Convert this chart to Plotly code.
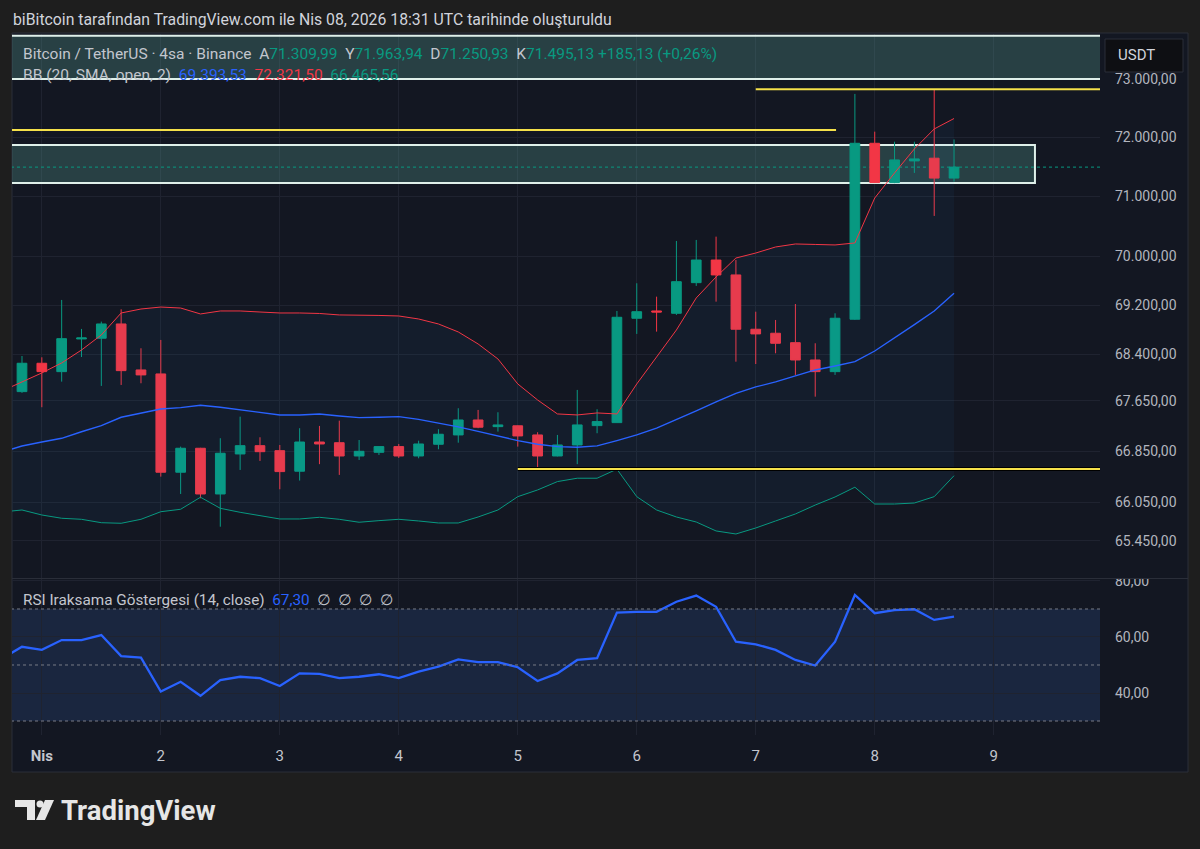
import plotly.graph_objects as go

W, H = 1200, 849

# ---------------- data ----------------
candle_idx = list(range(1, 49))          # 4h candles, idx 1 = 31 Mar 20:00
opens = [67800, 68256, 68121, 68649, 68661, 68893, 68148, 68084, 66520, 66898,
         66179, 66808, 66939, 66860, 66536, 66997, 66986, 66776, 66834, 66924,
         66776, 66961, 67109, 67347, 67241, 67254, 67109, 66776, 66950, 67257,
         67305, 68986, 69105, 69067, 69569, 69942, 69696, 68807, 68742, 68589,
         68309, 68121, 68970, 71899, 71234, 71600, 71646, 71309.99]
highs = [68373, 68352, 69285, 68812, 68931, 69132, 68498, 68633, 66924, 66905,
         67057, 67400, 67072, 66950, 67216, 67252, 67336, 67029, 66930, 66966,
         67018, 67200, 67534, 67507, 67470, 67260, 67152, 67109, 67827, 67518,
         69105, 69559, 69339, 70258, 70275, 70330, 69942, 69093, 68958, 69219,
         68579, 69067, 72743, 72097, 71926, 71926, 72823, 71963.94]
lows = [67780, 67550, 67960, 68357, 67891, 67907, 67934, 66451, 66179, 66112,
        65669, 66556, 66698, 66253, 66389, 66647, 66478, 66713, 66792, 66745,
        66740, 66882, 66986, 67216, 67162, 66924, 66588, 66770, 66647, 67136,
        67300, 68731, 68768, 69040, 69515, 69257, 68281, 68244, 68417, 68068,
        67719, 68068, 68960, 71230, 71225, 71397, 70675, 71250.93]
closes = [68256, 68121, 68654, 68665, 68893, 68137, 68068, 66520, 66898, 66179,
          66819, 66939, 66844, 66530, 66997, 66966, 66776, 66850, 66924, 66776,
          66966, 67120, 67347, 67232, 67268, 67093, 66776, 66950, 67268, 67321,
          69002, 69093, 69088, 69585, 69942, 69696, 68807, 68731, 68579, 68309,
          68121, 68986, 71899, 71234, 71617, 71634, 71310, 71495.13]

ind_idx = list(range(0, 49))             # indicator points (idx 0 = off-screen candle)
bb_upper = [67811, 67955, 68100, 68261, 68470, 68714, 69072, 69137, 69169, 69153,
            69056, 69105, 69105, 69088, 69072, 69072, 69064, 69040, 69040, 69032,
            69023, 68974, 68893, 68763, 68568, 68325, 67923, 67666, 67443, 67427,
            67459, 67443, 67923, 68357, 68795, 69318, 69663, 69975, 70058, 70158,
            70208, 70200, 70192, 70225, 70975, 71397, 71803, 72143, 72321.50]
bb_basis = [66839, 66934, 66997, 67056, 67160, 67256, 67390, 67454, 67522, 67543,
            67581, 67549, 67507, 67470, 67427, 67427, 67443, 67411, 67384, 67390,
            67400, 67356, 67300, 67237, 67165, 67086, 67019, 66962, 66924, 66915,
            66935, 67019, 67109, 67216, 67348, 67491, 67634, 67773, 67875, 67955,
            68052, 68148, 68212, 68281, 68454, 68665, 68881, 69105, 69393.53]
bb_lower = [65898, 65929, 65851, 65800, 65784, 65731, 65722, 65784, 65902, 65940,
            66128, 65955, 65893, 65846, 65789, 65789, 65815, 65784, 65738, 65763,
            65784, 65758, 65727, 65727, 65820, 65929, 66137, 66242, 66373, 66426,
            66426, 66568, 66137, 65929, 65820, 65742, 65603, 65556, 65649, 65758,
            65867, 66006, 66132, 66285, 66022, 66022, 66038, 66137, 66465.56]
rsi = [52.4, 56.5, 55.4, 58.9, 58.9, 60.7, 53.2, 52.6, 40.5, 44.0,
       39.0, 44.6, 45.8, 45.3, 42.5, 47.0, 46.8, 45.3, 45.8, 46.7,
       45.3, 47.6, 49.4, 52.0, 51.0, 51.0, 49.2, 44.3, 47.0, 51.8,
       52.4, 68.7, 69.0, 69.0, 72.6, 74.8, 70.8, 58.3, 57.4, 55.4,
       51.8, 49.8, 58.3, 75.0, 68.5, 69.6, 69.9, 66.1, 67.30]

day_ticks = [2, 8, 14, 20, 26, 32, 38, 44, 50]
day_labels = ["<b>Nis</b>", "2", "3", "4", "5", "6", "7", "8", "9"]
price_ticks = [73000, 72000, 71000, 70000, 69200, 68400, 67650, 66850, 66050, 65450]
rsi_ticks = [80, 60, 40]
rsi_levels = [70, 50, 30]

# drawing levels on the chart
top_zone = (73000, 73750)
range_zone = (71229, 71871)
res_hi = 72823
res_mid = 72126
sup_lo = 66572

# ---------------- helpers ----------------
def px(x):
    return x / W


def py(y):
    return 1 - y / H


def tr(v):
    s = f"{v:,.2f}"
    return s.replace(",", "X").replace(".", ",").replace("X", ".")


BG_OUT = "#1e1e1e"
BG = "#131722"
GRID = "#1f2330"
GREEN = "#089981"
RED = "#f23645"
BLUE = "#2962ff"
TXT = "#b2b5be"
FONT = "Roboto, 'DejaVu Sans', sans-serif"

XR = [0.496, 55.36]

fig = go.Figure()

fig.add_trace(go.Scatter(x=ind_idx, y=bb_upper, mode="lines",
                         line=dict(color=RED, width=1), xaxis="x", yaxis="y",
                         hoverinfo="skip"))
fig.add_trace(go.Scatter(x=ind_idx, y=bb_lower, mode="lines",
                         line=dict(color=GREEN, width=1), fill="tonexty",
                         fillcolor="rgba(33,150,243,0.05)", xaxis="x", yaxis="y",
                         hoverinfo="skip"))
fig.add_trace(go.Scatter(x=ind_idx, y=bb_basis, mode="lines",
                         line=dict(color=BLUE, width=1.4), xaxis="x", yaxis="y",
                         hoverinfo="skip"))
fig.add_trace(go.Candlestick(
    x=candle_idx, open=opens, high=highs, low=lows, close=closes,
    increasing=dict(line=dict(color=GREEN, width=1), fillcolor=GREEN),
    decreasing=dict(line=dict(color=RED, width=1), fillcolor=RED),
    whiskerwidth=0, xaxis="x", yaxis="y", hoverinfo="skip"))
fig.add_trace(go.Scatter(x=ind_idx, y=rsi, mode="lines",
                         line=dict(color=BLUE, width=2.3), xaxis="x2", yaxis="y2",
                         hoverinfo="skip"))

shapes = []
# chart panel
shapes.append(dict(type="rect", xref="paper", yref="paper", x0=px(12), x1=px(1188),
                   y0=py(772), y1=py(33), fillcolor=BG,
                   line=dict(color="#2a2e39", width=1), layer="below"))
# cover for the clipped top label of the RSI scale
shapes.append(dict(type="rect", xref="paper", yref="paper", x0=px(1101), x1=px(1187),
                   y0=py(579), y1=py(566), fillcolor=BG, line=dict(width=0),
                   layer="above"))
# pane divider
shapes.append(dict(type="line", xref="paper", yref="paper", x0=px(12), x1=px(1188),
                   y0=py(578.5), y1=py(578.5), line=dict(color="#2a2e39", width=1),
                   layer="above"))
# zones
zone_fill = "rgba(85,150,140,0.33)"
zone_line = "#dff0ea"
shapes.append(dict(type="rect", xref="x", yref="y", x0=-5, x1=60,
                   y0=top_zone[0], y1=top_zone[1], fillcolor=zone_fill,
                   line=dict(color=zone_line, width=2), layer="between"))
shapes.append(dict(type="rect", xref="x", yref="y", x0=-5, x1=52.08,
                   y0=range_zone[0], y1=range_zone[1], fillcolor=zone_fill,
                   line=dict(color=zone_line, width=2), layer="between"))
# yellow lines
shapes.append(dict(type="line", xref="x", yref="y", x0=38, x1=60, y0=res_hi, y1=res_hi,
                   line=dict(color="#f5e14a", width=2), layer="above"))
shapes.append(dict(type="line", xref="x", yref="y", x0=-5, x1=42.05, y0=res_mid, y1=res_mid,
                   line=dict(color="#f5e14a", width=2), layer="above"))
shapes.append(dict(type="line", xref="x", yref="y", x0=26, x1=60, y0=sup_lo, y1=sup_lo,
                   line=dict(color="#000000", width=4), layer="above"))
shapes.append(dict(type="line", xref="x", yref="y", x0=26, x1=60, y0=sup_lo, y1=sup_lo,
                   line=dict(color="#f5e14a", width=2), layer="above"))
# last price line
shapes.append(dict(type="line", xref="x", yref="y", x0=-5, x1=60,
                   y0=closes[-1], y1=closes[-1],
                   line=dict(color=GREEN, width=1, dash="dot"), layer="between"))
# RSI band and levels
shapes.append(dict(type="rect", xref="x2", yref="y2", x0=-5, x1=60, y0=30, y1=70,
                   fillcolor="#1a263f", line=dict(width=0), layer="below"))
for lv in rsi_levels:
    shapes.append(dict(type="line", xref="x2", yref="y2", x0=-5, x1=60, y0=lv, y1=lv,
                       line=dict(color="#787b86", width=1, dash="dot"), layer="above"))
# USDT box
shapes.append(dict(type="rect", xref="paper", yref="paper", x0=px(1105), x1=px(1183),
                   y0=py(72), y1=py(39), fillcolor="#0e0f13",
                   line=dict(color="#2a2e39", width=1), layer="above"))
# TradingView logo icon


def path(pts):
    return "M " + " L ".join(f"{px(a)},{py(b)}" for a, b in pts) + " Z"


LOGO = "#e6e6e6"
shapes.append(dict(type="path", xref="paper", yref="paper",
                   path=path([(15, 800), (35, 800), (35, 820), (27, 820), (27, 807), (15, 807)]),
                   fillcolor=LOGO, line=dict(width=0), layer="above"))
shapes.append(dict(type="circle", xref="paper", yref="paper",
                   x0=px(36.5), x1=px(43.5), y0=py(807.5), y1=py(800.5),
                   fillcolor=LOGO, line=dict(width=0), layer="above"))
shapes.append(dict(type="path", xref="paper", yref="paper",
                   path=path([(45, 800), (54, 800), (45, 820), (36, 820)]),
                   fillcolor=LOGO, line=dict(width=0), layer="above"))

ann = []
ann.append(dict(xref="paper", yref="paper", x=px(11), y=py(19), xanchor="left",
                yanchor="middle", showarrow=False,
                text="biBitcoin tarafından TradingView.com ile Nis 08, 2026 18:31 UTC tarihinde oluşturuldu",
                font=dict(family=FONT, size=15.8, color="#d1d4dc")))

chg = closes[-1] - closes[-2]
pct = chg / closes[-2] * 100
g = lambda s: f"<span style='color:{GREEN}'>{s}</span>"
sp = "\u00a0\u00a0"
row1 = ("Bitcoin / TetherUS · 4sa · Binance" + sp +
        "A" + g(tr(opens[-1])) + sp + "Y" + g(tr(highs[-1])) + sp +
        "D" + g(tr(lows[-1])) + sp + "K" + g(tr(closes[-1]) + "\u00a0+" + tr(chg) +
                                              " (+" + tr(pct) + "%)"))
ann.append(dict(xref="paper", yref="paper", x=px(21), y=py(54), xanchor="left",
                yanchor="middle", showarrow=False, text=row1,
                font=dict(family=FONT, size=15.5, color="#c3c6ce")))
row2 = ("BB (20, SMA, open, 2)" + sp +
        f"<span style='color:{BLUE}'>{tr(bb_basis[-1])}</span>" + sp +
        f"<span style='color:{RED}'>{tr(bb_upper[-1])}</span>" + sp +
        f"<span style='color:{GREEN}'>{tr(bb_lower[-1])}</span>")
ann.append(dict(xref="paper", yref="paper", x=px(21), y=py(75), xanchor="left",
                yanchor="middle", showarrow=False, text=row2,
                font=dict(family=FONT, size=15.5, color="#c3c6ce")))
row3 = ("RSI Iraksama Göstergesi (14, close)" + sp +
        f"<span style='color:{BLUE}'>{tr(rsi[-1])}</span>" + sp +
        "∅" + sp + "∅" + sp + "∅" + sp + "∅")
ann.append(dict(xref="paper", yref="paper", x=px(21), y=py(600), xanchor="left",
                yanchor="middle", showarrow=False, text=row3,
                font=dict(family=FONT, size=15.3, color="#c3c6ce")))
ann.append(dict(xref="paper", yref="paper", x=px(1116), y=py(55), xanchor="left",
                yanchor="middle", showarrow=False, text="USDT",
                font=dict(family=FONT, size=15, color="#d1d4dc")))
ann.append(dict(xref="paper", yref="paper", x=px(59), y=py(810), xanchor="left",
                yanchor="middle", showarrow=False, text="<b>TradingView</b>",
                font=dict(family=FONT, size=27.5, color=LOGO)))

fig.update_layout(
    width=W, height=H, margin=dict(l=0, r=0, t=0, b=0, autoexpand=False),
    paper_bgcolor=BG_OUT, plot_bgcolor=BG, showlegend=False,
    font=dict(family=FONT, color=TXT, size=13),
    shapes=shapes, annotations=ann,
    xaxis=dict(domain=[px(12), px(1100)], range=XR, anchor="y",
               showticklabels=False, tickvals=day_ticks, ticks="",
               showgrid=True, gridcolor=GRID, zeroline=False, showline=False,
               rangeslider=dict(visible=False), fixedrange=True, automargin=False),
    yaxis=dict(domain=[py(578), py(34)], type="log", range=[4.812094, 4.867943],
               side="right", anchor="x", tickvals=price_ticks,
               ticktext=[tr(v) for v in price_ticks], ticks="",
               showgrid=True, gridcolor=GRID, zeroline=False, showline=False,
               ticklabelstandoff=14, tickfont=dict(size=14, color=TXT),
               fixedrange=True, automargin=False),
    xaxis2=dict(domain=[px(12), px(1100)], range=XR, anchor="y2",
                tickvals=day_ticks, ticktext=day_labels, ticks="",
                showgrid=True, gridcolor=GRID, zeroline=False, showline=False,
                ticklabelstandoff=10, tickfont=dict(size=15, color="#c3c6ce"),
                fixedrange=True, automargin=False),
    yaxis2=dict(domain=[py(735), py(579)], range=[25.0, 80.71], side="right",
                anchor="x2", tickvals=rsi_ticks,
                ticktext=[tr(v) for v in rsi_ticks], ticks="",
                showgrid=True, gridcolor=GRID, zeroline=False, showline=False,
                ticklabelstandoff=14, tickfont=dict(size=14, color=TXT),
                fixedrange=True, automargin=False),
)

fig.write_html("out.html")
